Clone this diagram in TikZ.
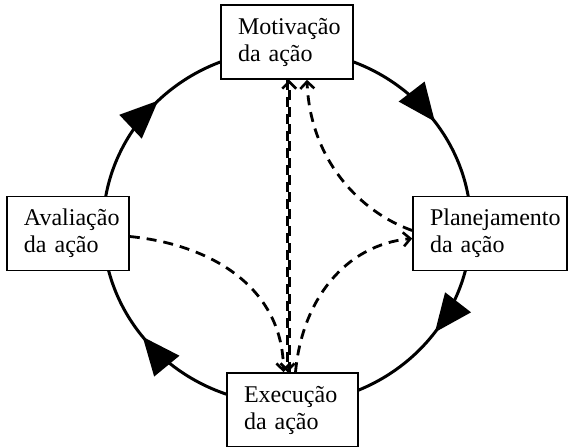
\documentclass[tikz,border=0pt]{standalone}
\usepackage{fontspec}
\setmainfont{Liberation Serif}
\usetikzlibrary{arrows.meta}
\usetikzlibrary{decorations.markings}

\begin{document}
\begin{tikzpicture}[x=0.5pt, y=-0.5pt,
  box/.style={draw, fill=white, line width=0.8pt, rectangle, align=left,
              inner xsep=8.5pt, inner ysep=0pt, minimum height=37pt,
              font=\fontsize{12}{13.5}\selectfont},
  flow/.style={dash pattern=on 5pt off 3.5pt, line width=1.4pt,
               -{Straight Barb[length=3.5pt,width=7pt,line width=1.3pt]}},
  cycle/.style={line width=1.5pt, postaction={decorate},
    decoration={markings,
      mark=at position 0.1 with {\arrow{Triangle[length=19pt,width=16pt]}},
      mark=at position 0.395 with {\arrow{Triangle[length=19pt,width=16pt]}},
      mark=at position 0.625 with {\arrow{Triangle[length=19pt,width=16pt]}},
      mark=at position 0.9 with {\arrow{Triangle[length=19pt,width=16pt]}}}}
  ]
  \useasboundingbox (0,0) rectangle (569,446);

  % the cycle
  \draw[cycle] (287,227) ellipse [x radius=184, y radius=177];

  \node (mot) at (287,42) [box, text width=49pt] {Motivação\\da ação};
  \node (ava) at (68,233.5) [box, text width=44pt] {Avaliação\\da ação};
  \node (pla) at (490,233.5) [box, text width=60pt] {Planejamento\\da ação};
  \node (exe) at (292.5,410) [box, text width=48.5pt] {Execução\\da ação};

  \draw[flow] ([yshift=-1.5pt]ava.east) .. controls (215,245) and (283,290) .. ([xshift=-4.5pt]exe.north);
  \draw[flow] ([xshift=1.5pt]exe.north) .. controls (302,300) and (345,245) .. ([yshift=-2.5pt]pla.west);
  \draw[flow] ([yshift=1.5pt]pla.west) .. controls (360,212) and (310,160) .. ([xshift=10pt]mot.south);
  \draw[flow] ([xshift=0.3pt]mot.south) -- ([xshift=0.3pt]mot.south |- exe.north);
  \draw[flow] ([xshift=1.1pt]mot.south |- exe.north) -- ([xshift=1.1pt]mot.south);
\end{tikzpicture}
\end{document}
